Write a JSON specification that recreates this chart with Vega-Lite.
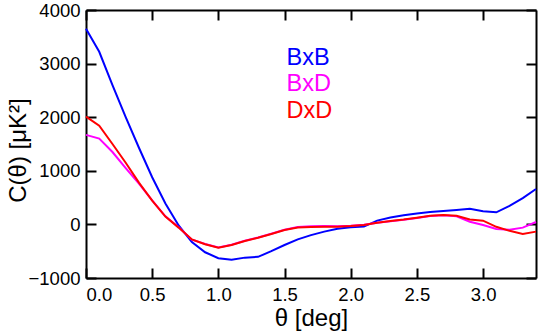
{
  "$schema": "https://vega.github.io/schema/vega-lite/v6.json",
  "width": 450,
  "height": 268,
  "autosize": {"type": "none"},
  "padding": {"left": 86, "top": 10, "right": 3, "bottom": 55},
  "background": "white",
  "config": {
    "view": {"stroke": null},
    "font": "Liberation Sans",
    "axis": {
      "grid": false,
      "domainColor": "black",
      "domainWidth": 2,
      "tickColor": "black",
      "tickWidth": 2,
      "tickSize": -10,
      "labelColor": "black",
      "labelFontSize": 18.5,
      "labelFont": "Liberation Sans",
      "titleFont": "Liberation Sans",
      "titleColor": "black",
      "titleFontSize": 24,
      "titleFontWeight": "normal"
    }
  },
  "datasets": {
    "curves": [
      {"theta": 0.0, "C": 3650, "series": "BxB"},
      {"theta": 0.1, "C": 3220, "series": "BxB"},
      {"theta": 0.2, "C": 2600, "series": "BxB"},
      {"theta": 0.3, "C": 2000, "series": "BxB"},
      {"theta": 0.4, "C": 1430, "series": "BxB"},
      {"theta": 0.5, "C": 880, "series": "BxB"},
      {"theta": 0.6, "C": 390, "series": "BxB"},
      {"theta": 0.7, "C": -20, "series": "BxB"},
      {"theta": 0.8, "C": -330, "series": "BxB"},
      {"theta": 0.9, "C": -520, "series": "BxB"},
      {"theta": 1.0, "C": -630, "series": "BxB"},
      {"theta": 1.1, "C": -660, "series": "BxB"},
      {"theta": 1.2, "C": -620, "series": "BxB"},
      {"theta": 1.3, "C": -605, "series": "BxB"},
      {"theta": 1.4, "C": -500, "series": "BxB"},
      {"theta": 1.5, "C": -385, "series": "BxB"},
      {"theta": 1.6, "C": -280, "series": "BxB"},
      {"theta": 1.7, "C": -200, "series": "BxB"},
      {"theta": 1.8, "C": -135, "series": "BxB"},
      {"theta": 1.9, "C": -80, "series": "BxB"},
      {"theta": 2.0, "C": -55, "series": "BxB"},
      {"theta": 2.1, "C": -40, "series": "BxB"},
      {"theta": 2.2, "C": 70, "series": "BxB"},
      {"theta": 2.3, "C": 130, "series": "BxB"},
      {"theta": 2.4, "C": 170, "series": "BxB"},
      {"theta": 2.5, "C": 205, "series": "BxB"},
      {"theta": 2.6, "C": 230, "series": "BxB"},
      {"theta": 2.7, "C": 250, "series": "BxB"},
      {"theta": 2.8, "C": 270, "series": "BxB"},
      {"theta": 2.9, "C": 290, "series": "BxB"},
      {"theta": 3.0, "C": 245, "series": "BxB"},
      {"theta": 3.1, "C": 225, "series": "BxB"},
      {"theta": 3.2, "C": 345, "series": "BxB"},
      {"theta": 3.3, "C": 490, "series": "BxB"},
      {"theta": 3.4, "C": 660, "series": "BxB"},
      {"theta": 0.0, "C": 1670, "series": "BxD"},
      {"theta": 0.1, "C": 1600, "series": "BxD"},
      {"theta": 0.2, "C": 1350, "series": "BxD"},
      {"theta": 0.3, "C": 1050, "series": "BxD"},
      {"theta": 0.4, "C": 760, "series": "BxD"},
      {"theta": 0.5, "C": 450, "series": "BxD"},
      {"theta": 0.6, "C": 150, "series": "BxD"},
      {"theta": 0.7, "C": -55, "series": "BxD"},
      {"theta": 0.8, "C": -285, "series": "BxD"},
      {"theta": 0.9, "C": -365, "series": "BxD"},
      {"theta": 1.0, "C": -430, "series": "BxD"},
      {"theta": 1.1, "C": -380, "series": "BxD"},
      {"theta": 1.2, "C": -305, "series": "BxD"},
      {"theta": 1.3, "C": -245, "series": "BxD"},
      {"theta": 1.4, "C": -175, "series": "BxD"},
      {"theta": 1.5, "C": -100, "series": "BxD"},
      {"theta": 1.6, "C": -50, "series": "BxD"},
      {"theta": 1.7, "C": -35, "series": "BxD"},
      {"theta": 1.8, "C": -30, "series": "BxD"},
      {"theta": 1.9, "C": -35, "series": "BxD"},
      {"theta": 2.0, "C": -25, "series": "BxD"},
      {"theta": 2.1, "C": -5, "series": "BxD"},
      {"theta": 2.2, "C": 30, "series": "BxD"},
      {"theta": 2.3, "C": 60, "series": "BxD"},
      {"theta": 2.4, "C": 85, "series": "BxD"},
      {"theta": 2.5, "C": 120, "series": "BxD"},
      {"theta": 2.6, "C": 155, "series": "BxD"},
      {"theta": 2.7, "C": 170, "series": "BxD"},
      {"theta": 2.8, "C": 150, "series": "BxD"},
      {"theta": 2.9, "C": 50, "series": "BxD"},
      {"theta": 3.0, "C": -10, "series": "BxD"},
      {"theta": 3.1, "C": -85, "series": "BxD"},
      {"theta": 3.2, "C": -100, "series": "BxD"},
      {"theta": 3.3, "C": -60, "series": "BxD"},
      {"theta": 3.4, "C": 45, "series": "BxD"},
      {"theta": 0.0, "C": 2010, "series": "DxD"},
      {"theta": 0.1, "C": 1840, "series": "DxD"},
      {"theta": 0.2, "C": 1500, "series": "DxD"},
      {"theta": 0.3, "C": 1150, "series": "DxD"},
      {"theta": 0.4, "C": 780, "series": "DxD"},
      {"theta": 0.5, "C": 445, "series": "DxD"},
      {"theta": 0.6, "C": 145, "series": "DxD"},
      {"theta": 0.7, "C": -60, "series": "DxD"},
      {"theta": 0.8, "C": -280, "series": "DxD"},
      {"theta": 0.9, "C": -370, "series": "DxD"},
      {"theta": 1.0, "C": -435, "series": "DxD"},
      {"theta": 1.1, "C": -385, "series": "DxD"},
      {"theta": 1.2, "C": -310, "series": "DxD"},
      {"theta": 1.3, "C": -250, "series": "DxD"},
      {"theta": 1.4, "C": -180, "series": "DxD"},
      {"theta": 1.5, "C": -105, "series": "DxD"},
      {"theta": 1.6, "C": -60, "series": "DxD"},
      {"theta": 1.7, "C": -48, "series": "DxD"},
      {"theta": 1.8, "C": -42, "series": "DxD"},
      {"theta": 1.9, "C": -42, "series": "DxD"},
      {"theta": 2.0, "C": -30, "series": "DxD"},
      {"theta": 2.1, "C": -10, "series": "DxD"},
      {"theta": 2.2, "C": 30, "series": "DxD"},
      {"theta": 2.3, "C": 62, "series": "DxD"},
      {"theta": 2.4, "C": 90, "series": "DxD"},
      {"theta": 2.5, "C": 125, "series": "DxD"},
      {"theta": 2.6, "C": 160, "series": "DxD"},
      {"theta": 2.7, "C": 175, "series": "DxD"},
      {"theta": 2.8, "C": 160, "series": "DxD"},
      {"theta": 2.9, "C": 90, "series": "DxD"},
      {"theta": 3.0, "C": 70, "series": "DxD"},
      {"theta": 3.1, "C": -45, "series": "DxD"},
      {"theta": 3.2, "C": -120, "series": "DxD"},
      {"theta": 3.3, "C": -180, "series": "DxD"},
      {"theta": 3.4, "C": -135, "series": "DxD"}
    ]
  },
  "layer": [
    {
      "mark": {"type": "rule", "color": "black", "strokeWidth": 2},
      "encoding": {
        "x": {"datum": 0, "type": "quantitative", "scale": {"domain": [0, 3.4], "nice": false},
              "axis": {"orient": "top", "labels": false, "title": null, "values": [0, 0.5, 1, 1.5, 2, 2.5, 3]}},
        "x2": {"datum": 3.4},
        "y": {"datum": 0, "type": "quantitative", "scale": {"domain": [-1000, 4000], "nice": false},
              "axis": {"orient": "right", "labels": false, "title": null, "values": [-1000, 0, 1000, 2000, 3000, 4000]}}
      }
    },
    {
      "data": {"name": "curves"},
      "mark": {"type": "line", "strokeWidth": 2},
      "encoding": {
        "x": {"field": "theta", "type": "quantitative", "scale": {"domain": [0, 3.4], "nice": false},
              "axis": {"orient": "bottom", "title": "θ [deg]", "values": [0, 0.5, 1, 1.5, 2, 2.5, 3], "format": ".1f",
                       "labelPadding": 17, "titleY": 47, "titleBaseline": "alphabetic"}},
        "y": {"field": "C", "type": "quantitative", "scale": {"domain": [-1000, 4000], "nice": false},
              "axis": {"orient": "left", "title": "C(θ) [μK²]", "values": [-1000, 0, 1000, 2000, 3000, 4000], "format": "d",
                       "labelPadding": 16, "titleX": -56, "titleY": 140, "titleBaseline": "bottom"}},
        "color": {"field": "series", "type": "nominal",
                  "scale": {"domain": ["BxB", "BxD", "DxD"], "range": ["#0000ff", "#ff00ff", "#ff0000"]},
                  "legend": {"orient": "none", "legendX": 177, "legendY": 36, "title": null,
                             "symbolSize": 0, "symbolOpacity": 0, "symbolStrokeWidth": 0, "labelOffset": 0,
                             "labelFontSize": 23.5, "labelFont": "Liberation Sans", "rowPadding": 1.5, "padding": 0, "labelLimit": 0,
                             "encode": {"labels": {"update": {"fill": {"scale": "color", "field": "value"}}}}}}
      }
    }
  ],
  "resolve": {"axis": {"x": "independent", "y": "independent"}}
}
